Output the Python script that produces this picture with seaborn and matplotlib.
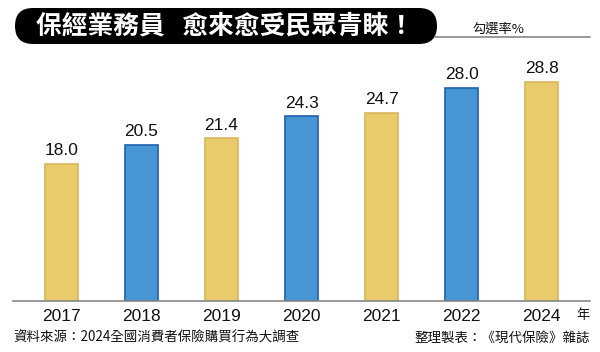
import matplotlib.pyplot as plt
import seaborn as sns
import pandas as pd
from matplotlib.patches import FancyBboxPatch
from matplotlib.lines import Line2D

# Chart data
years = ['2017', '2018', '2019', '2020', '2021', '2022', '2024']
rates = [18.0, 20.5, 21.4, 24.3, 24.7, 28.0, 28.8]
title_text = '保經業務員   愈來愈受民眾青睞！'
unit_text = '勾選率%'
source_text = '資料來源：2024全國消費者保險購買行為大調查'
credit_text = '整理製表：《現代保險》雜誌'

yellow, yellow_edge = '#EACB6B', '#D8B55A'
blue, blue_edge = '#4895D3', '#1E5FAE'
fills = [yellow if i % 2 == 0 else blue for i in range(len(years))]
edges = [yellow_edge if i % 2 == 0 else blue_edge for i in range(len(years))]

sns.set_theme(style='white')
plt.rcParams['font.family'] = ['Liberation Sans', 'Noto Sans CJK TC', 'DejaVu Sans']
cjk = ['Noto Sans CJK TC', 'DejaVu Sans']

df = pd.DataFrame({'year': years, 'rate': rates})

fig = plt.figure(figsize=(6, 3.52), dpi=100)
W, H = 600, 352
# axes: baseline at y=301px, left 13px, right 590px, top at 60px
ax = fig.add_axes([13 / W, (H - 301) / H, (590 - 13) / W, (301 - 60) / H])

sns.barplot(data=df, x='year', y='rate', hue='year', palette=fills,
            saturation=1, legend=False, width=0.41, ax=ax, linewidth=1.2)
for patch, ec in zip(ax.patches, edges):
    patch.set_edgecolor(ec)

ax.set_xlim(-0.606, 6.606)
ax.set_ylim(0, 241 / 7.61)

for i, v in enumerate(rates):
    ax.annotate(f'{v:.1f}', (i, v), xytext=(0, 4), textcoords='offset points',
                ha='center', va='bottom', fontsize=12.5, color='#111111')

ax.set_xlabel('')
ax.set_ylabel('')
ax.set_yticks([])
ax.tick_params(axis='x', length=0, labelsize=12.5, pad=6, labelcolor='#111111')
for s in ['top', 'left', 'right']:
    ax.spines[s].set_visible(False)
ax.spines['bottom'].set_color('#888888')
ax.spines['bottom'].set_linewidth(1.2)

# "年" after the last year label
fig.text(583 / W, 1 - 315 / H, '年', family=cjk, fontsize=9.5,
         ha='center', va='center', color='#111111')

# title box
box = FancyBboxPatch((0.15, H / 100 - 0.44), 4.22, 0.36,
                     boxstyle='round,pad=0,rounding_size=0.18',
                     transform=fig.dpi_scale_trans, facecolor='black',
                     edgecolor='none')
fig.patches.append(box)
fig.text(36 / W, 1 - 26 / H, title_text, family=cjk, fontsize=18.5,
         fontweight='bold', color='white', ha='left', va='center')

# unit label and gray rule
fig.add_artist(Line2D([435 / W, 590 / W], [1 - 37 / H, 1 - 37 / H],
                      color='#888888', lw=1.2, transform=fig.transFigure))
fig.text(498 / W, 1 - 29 / H, unit_text, family=cjk, fontsize=9.5,
         ha='center', va='center', color='#111111')

# footer
fig.text(13 / W, 1 - 338 / H, source_text, family=cjk, fontsize=9.7,
         ha='left', va='center', color='#111111')
fig.text(590 / W, 1 - 338 / H, credit_text, family=cjk, fontsize=9.7,
         ha='right', va='center', color='#111111')

fig.savefig('out.png', dpi=100)
